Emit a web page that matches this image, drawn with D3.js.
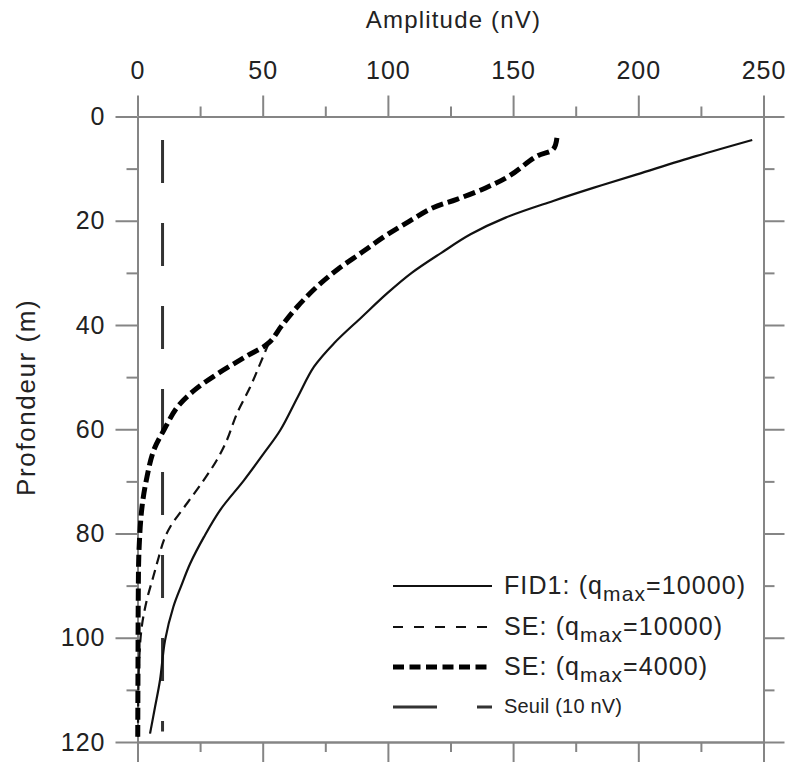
<!DOCTYPE html>
<html><head><meta charset="utf-8">
<script src="https://cdn.jsdelivr.net/npm/d3@7"></script>
<style>
html,body{margin:0;padding:0;background:#fff;}
svg{display:block;}
text{font-family:"Liberation Sans",Arial,sans-serif;}
</style></head>
<body>
<svg id="chart" width="788" height="762"></svg>
<script>
// ---- data ----
const xMajorTicks = [0, 50, 100, 150, 200, 250];
const xMinorTicks = [25, 75, 125, 175, 225];
const yMajorTicks = [0, 20, 40, 60, 80, 100, 120];
const yMinorTicks = [10, 30, 50, 70, 90, 110];

// FID1 (qmax=10000): depth (m) and amplitude (nV)
const fid1Depth = [4.5, 7.6, 11.1, 13.7, 16.2, 19.4, 22.6, 26.1, 30.0, 33.8, 38.5, 43.5, 48.0, 53.8, 60.2, 64.6, 69.8, 75.5, 80.7, 85.8, 90.0, 94.1, 100.5, 108.1, 113.3, 118.4];
const fid1Amp   = [245.5, 223, 199.5, 182, 166, 147, 133, 121.5, 109.5, 100, 89.5, 78.5, 70.5, 64, 57, 50.5, 42.5, 33, 26.5, 21, 17.5, 14.3, 11, 9, 7, 5];

// SE (qmax=4000)
const se4000Depth = [4.1, 6.3, 7.6, 11.4, 13.7, 15.9, 17.5, 20.1, 22.9, 26.1, 29.3, 32.5, 36.4, 40.2, 43.4, 46.0, 49.2, 52.4, 55.7, 60.2, 64.0, 69.1, 74.9, 83.2, 92.8, 105, 119];
const se4000Amp   = [167.5, 166, 159.5, 148.5, 139, 127.5, 118, 108.5, 99, 89.5, 80, 72, 64, 57.5, 52.5, 43.5, 32.5, 23, 16, 10.5, 6.5, 3.8, 1.8, 0.6, 0.3, 0.2, 0.1];

// SE (qmax=10000) — branches off the 4000 curve near 43 m
const se10000Depth = [43.4, 47.4, 51.9, 57.0, 62.1, 65.9, 69.8, 74.2, 78.7, 81.3, 84.5, 88.3, 92.8, 97.9, 105, 119];
const se10000Amp   = [52.5, 49, 45, 39.7, 35.7, 31.7, 26.4, 19.8, 13.1, 10.5, 8.5, 6.3, 3.7, 1.7, 0.6, 0.2];

// Seuil (10 nV)
const seuilAmp = 10;
const seuilDepthRange = [4.5, 118];

const legendLabels = [
  {main: "FID1: (q", sub: "max", rest: "=10000)"},
  {main: "SE: (q", sub: "max", rest: "=10000)"},
  {main: "SE: (q", sub: "max", rest: "=4000)"},
  {main: "Seuil (10 nV)"}
];

// ---- chart ----
const svg = d3.select("#chart");
const x = d3.scaleLinear().domain([0, 250]).range([137.5, 763.5]);
const y = d3.scaleLinear().domain([0, 120]).range([116.5, 742]);
const axisColor = "#858585";

function styleAxis(g){
  g.select(".domain").attr("stroke", axisColor).attr("stroke-width", 2);
  g.selectAll(".tick line").attr("stroke", axisColor).attr("stroke-width", 2);
  g.selectAll(".tick text").attr("fill", "#222").attr("font-size", 25)
    .attr("letter-spacing", 1)
    .attr("font-family", "Liberation Sans, Arial, sans-serif");
}

// top axis
svg.append("g").attr("transform", `translate(0,${y(0)})`)
  .call(d3.axisTop(x).tickValues(xMajorTicks).tickSize(21).tickSizeOuter(0).tickPadding(17).tickFormat(d3.format("d")))
  .call(styleAxis);
svg.append("g").attr("transform", `translate(0,${y(0)})`)
  .call(d3.axisTop(x).tickValues(xMinorTicks).tickSize(10).tickSizeOuter(0).tickFormat(""))
  .call(styleAxis);
// bottom axis
svg.append("g").attr("transform", `translate(0,${y(120)})`)
  .call(d3.axisBottom(x).tickValues(xMajorTicks).tickSize(20).tickSizeOuter(0).tickFormat(""))
  .call(styleAxis);
svg.append("g").attr("transform", `translate(0,${y(120)})`)
  .call(d3.axisBottom(x).tickValues(xMinorTicks).tickSize(10).tickSizeOuter(0).tickFormat(""))
  .call(styleAxis);
// left axis
svg.append("g").attr("transform", `translate(${x(0)},0)`)
  .call(d3.axisLeft(y).tickValues(yMajorTicks).tickSize(22).tickSizeOuter(0).tickPadding(10).tickFormat(d3.format("d")))
  .call(styleAxis);
svg.append("g").attr("transform", `translate(${x(0)},0)`)
  .call(d3.axisLeft(y).tickValues(yMinorTicks).tickSize(11).tickSizeOuter(0).tickFormat(""))
  .call(styleAxis);
// right axis
svg.append("g").attr("transform", `translate(${x(250)},0)`)
  .call(d3.axisRight(y).tickValues(yMajorTicks).tickSize(21).tickSizeOuter(0).tickFormat(""))
  .call(styleAxis);
svg.append("g").attr("transform", `translate(${x(250)},0)`)
  .call(d3.axisRight(y).tickValues(yMinorTicks).tickSize(11).tickSizeOuter(0).tickFormat(""))
  .call(styleAxis);

// axis titles
svg.append("text").attr("x", (x(0) + x(250)) / 2 + 3).attr("y", 28)
  .attr("text-anchor", "middle").attr("font-size", 24).attr("letter-spacing", 1.2).attr("fill", "#222")
  .text("Amplitude (nV)");
svg.append("text").attr("transform", `translate(35,${(y(0)+y(120))/2 - 32}) rotate(-90)`)
  .attr("text-anchor", "middle").attr("font-size", 26).attr("letter-spacing", 1.6).attr("fill", "#222")
  .text("Profondeur (m)");

// curves
const line = d3.line().x(d => x(d[1])).y(d => y(d[0])).curve(d3.curveCatmullRom.alpha(0.5));
const zip = (a, b) => a.map((v, i) => [v, b[i]]);

// seuil
svg.append("line")
  .attr("x1", x(seuilAmp)).attr("x2", x(seuilAmp))
  .attr("y1", y(seuilDepthRange[0])).attr("y2", y(seuilDepthRange[1]))
  .attr("stroke", "#333").attr("stroke-width", 3).attr("stroke-dasharray", "43,40");

svg.append("path").datum(zip(fid1Depth, fid1Amp)).attr("d", line)
  .attr("fill", "none").attr("stroke", "#111").attr("stroke-width", 2.2);
svg.append("path").datum(zip(se10000Depth, se10000Amp)).attr("d", line)
  .attr("fill", "none").attr("stroke", "#111").attr("stroke-width", 2.2).attr("stroke-dasharray", "10,6");
svg.append("path").datum(zip(se4000Depth, se4000Amp)).attr("d", line)
  .attr("fill", "none").attr("stroke", "#000").attr("stroke-width", 5).attr("stroke-dasharray", "12,5");

// legend
const legStyles = [
  {w: 2.2, dash: null, color: "#111"},
  {w: 2.2, dash: "10,11", color: "#111"},
  {w: 5, dash: "11,5.5", color: "#000"},
  {w: 3, dash: "44,40", color: "#333"}
];
const legY = [586, 627, 667, 707];
const leg = svg.append("g");
legendLabels.forEach((lab, i) => {
  const st = legStyles[i];
  leg.append("line").attr("x1", 393).attr("x2", 492).attr("y1", legY[i]).attr("y2", legY[i])
    .attr("stroke", st.color).attr("stroke-width", st.w).attr("stroke-dasharray", st.dash);
  const t = leg.append("text").attr("x", 504).attr("y", legY[i] + (i < 3 ? 8 : 6))
    .attr("fill", "#222").attr("font-size", i < 3 ? 25 : 20)
    .attr("letter-spacing", i < 3 ? 1.1 : 0.2);
  t.append("tspan").text(lab.main);
  if (lab.sub) {
    t.append("tspan").attr("font-size", 21).attr("dy", 7).text(lab.sub);
    t.append("tspan").attr("dy", -7).text(lab.rest);
  }
});
</script>
</body></html>
